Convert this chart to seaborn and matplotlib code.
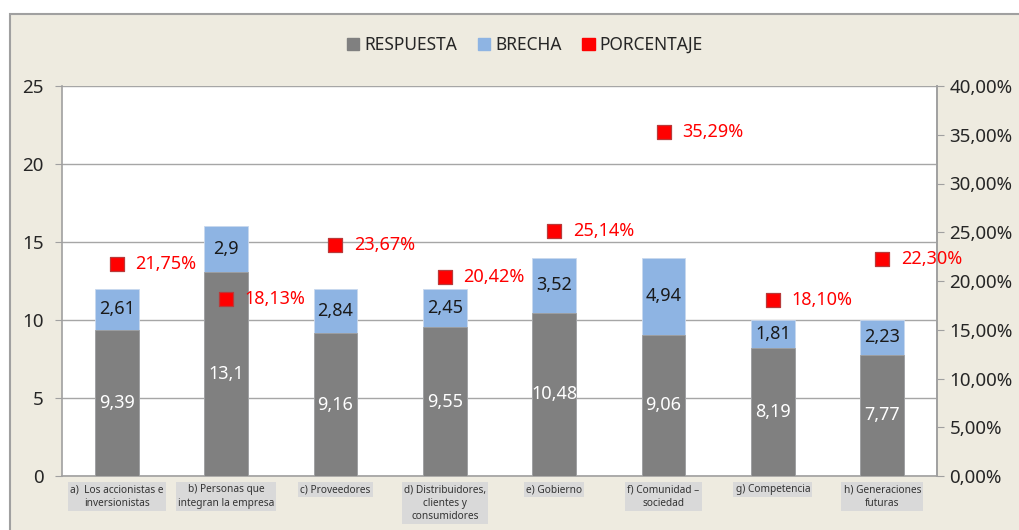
import matplotlib
matplotlib.use("Agg")
import matplotlib.pyplot as plt
import matplotlib.patches as mpatches
import seaborn as sns

categorias = ["a)  Los accionistas e\ninversionistas", "b) Personas que\nintegran la empresa",
              "c) Proveedores", "d) Distribuidores,\nclientes y\nconsumidores", "e) Gobierno",
              "f) Comunidad –\nsociedad", "g) Competencia", "h) Generaciones\nfuturas"]
respuesta = [9.39, 13.1, 9.16, 9.55, 10.48, 9.06, 8.19, 7.77]
brecha = [2.61, 2.9, 2.84, 2.45, 3.52, 4.94, 1.81, 2.23]
porcentaje = [21.75, 18.13, 23.67, 20.42, 25.14, 35.29, 18.10, 22.30]

gris = "#808080"
azul = "#8EB4E3"
rojo = "#FF0000"
fondo = "#EEEBE0"

sns.set_style("white")
plt.rcParams["font.family"] = ["Noto Sans", "DejaVu Sans"]

fig = plt.figure(figsize=(10.19, 5.30), dpi=100)
fig.patch.set_facecolor("white")
# beige chart area with grey border
fig.patches.append(mpatches.Rectangle((10 / 1019, -0.05), 1.1, 1 - 14 / 530 + 0.05,
                                      transform=fig.transFigure, facecolor=fondo,
                                      edgecolor="#A0A0A0", linewidth=1.5, zorder=-10))

ax = fig.add_axes([62 / 1019, 54 / 530, 875 / 1019, 390 / 530])
ax.set_facecolor("white")

total = [r + b for r, b in zip(respuesta, brecha)]
sns.barplot(x=categorias, y=total, color=azul, width=0.4, saturation=1, ax=ax,
            edgecolor="#C8D8EE", linewidth=0.6, zorder=2)
sns.barplot(x=categorias, y=respuesta, color=gris, width=0.4, saturation=1, ax=ax,
            edgecolor="#A0A0A0", linewidth=0.6, zorder=3)

ax.set_ylim(0, 25)
ax.set_xlim(-0.5, 7.5)
ax.set_yticks(range(0, 26, 5))
ax.grid(axis="y", color="#A6A6A6", linewidth=1, zorder=0)
ax.set_axisbelow(True)
ax.set_xlabel("")
ax.set_ylabel("")

for i, (r, b) in enumerate(zip(respuesta, brecha)):
    ax.text(i, r / 2, str(r).replace(".", ","), ha="center", va="center",
            color="white", fontsize=13, zorder=5)
    ax.text(i, r + b / 2, str(b).replace(".", ","), ha="center", va="center",
            color="#1A1A1A", fontsize=13, zorder=5)

# category labels with grey boxes
ax.set_xticks(range(len(categorias)))
ax.set_xticklabels(categorias, fontsize=7.3, color="#333333", linespacing=1.3)
for lbl in ax.get_xticklabels():
    lbl.set_bbox(dict(facecolor="#D9D9D9", edgecolor="none", pad=1.5))
ax.tick_params(axis="x", which="major", length=0, pad=6)
ax.set_xticks([i - 0.5 for i in range(len(categorias) + 1)], minor=True)
ax.tick_params(axis="x", which="minor", length=5, color="#A0A0A0", direction="out")
ax.tick_params(axis="y", length=5, color="#A0A0A0", direction="out", labelsize=13.5,
               labelcolor="#262626", pad=8)

for side in ["left", "bottom", "right"]:
    ax.spines[side].set_color("#A0A0A0")
    ax.spines[side].set_linewidth(1.2)
ax.spines["top"].set_visible(False)

ax2 = ax.twinx()
sns.scatterplot(x=list(range(len(categorias))), y=porcentaje, marker="s", s=115,
                color=rojo, edgecolor="#B83A3A", linewidth=0.9, ax=ax2, zorder=6)
for i, p in enumerate(porcentaje):
    ax2.text(i + 0.17, p, f"{p:.2f}%".replace(".", ","), ha="left", va="center",
             color=rojo, fontsize=13, zorder=6)
ax2.set_ylim(0, 40)
ax2.set_yticks(range(0, 41, 5))
ax2.set_yticklabels([f"{v:.2f}%".replace(".", ",") for v in range(0, 41, 5)])
ax2.tick_params(axis="y", length=5, color="#A0A0A0", direction="out", labelsize=13.5,
                labelcolor="#262626", pad=4)
for side in ["left", "bottom", "top"]:
    ax2.spines[side].set_visible(False)
ax2.spines["right"].set_color("#A0A0A0")
ax2.spines["right"].set_linewidth(1.2)
ax2.set_xlim(-0.5, 7.5)

handles = [mpatches.Patch(color=gris, label="RESPUESTA"),
           mpatches.Patch(color=azul, label="BRECHA"),
           mpatches.Patch(color=rojo, label="PORCENTAJE")]
fig.legend(handles=handles, loc="center", bbox_to_anchor=(0.515, 0.915), ncol=3,
           frameon=False, fontsize=12.5, handlelength=0.7, handleheight=0.7,
           handletextpad=0.3, columnspacing=1.2, labelcolor="#262626")

fig.savefig("out.png", dpi=100, facecolor=fig.get_facecolor())
